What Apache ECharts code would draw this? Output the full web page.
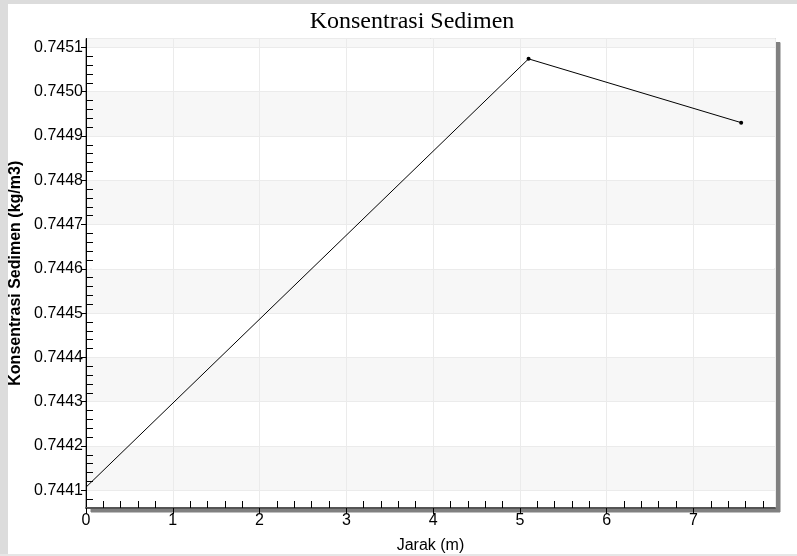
<!DOCTYPE html>
<html>
<head>
<meta charset="utf-8">
<script src="https://cdn.jsdelivr.net/npm/echarts@6/dist/echarts.min.js"></script>
<style>
html,body{margin:0;padding:0;background:#fff;}
#chart{width:797px;height:556px;}
</style>
</head>
<body>
<div id="chart"></div>
<script>
const titleText = "Konsentrasi Sedimen";
const xName = "Jarak (m)";
const yName = "Konsentrasi Sedimen (kg/m3)";
const jarak = [0, 5.1, 7.55];
const konsentrasi = [0.744107, 0.745074, 0.744930];
const xMin = 0, xMax = 7.94;
const yMin = 0.74406, yMax = 0.74512;

const seriesData = jarak.map((x, i) => i === 0 ? {value: [x, konsentrasi[i]], symbol: 'none'} : [x, konsentrasi[i]]);

const chart = echarts.init(document.getElementById('chart'), null, {renderer: 'canvas'});
const FONT = '"Liberation Sans", Arial, sans-serif';
const gridDef = {left: 86, right: 22, top: 38.5, bottom: 48};

chart.setOption({
  animation: false,
  backgroundColor: '#ffffff',
  graphic: [
    {type: 'rect', shape: {x: 0, y: 0, width: 797, height: 4}, style: {fill: '#dcdcdc'}, z: -10},
    {type: 'rect', shape: {x: 0, y: 0, width: 8, height: 556}, style: {fill: '#dcdcdc'}, z: -10},
    {type: 'rect', shape: {x: 0, y: 554, width: 797, height: 2}, style: {fill: '#e6e6e6'}, z: -10}
  ],
  title: {
    text: titleText,
    left: 407, top: 5, textAlign: 'center',
    textStyle: {fontFamily: '"Liberation Serif", "Times New Roman", serif', fontSize: 24, fontWeight: 'normal', color: '#000'}
  },
  grid: Object.assign({
    show: true, backgroundColor: '#ffffff', borderColor: '#555555', borderWidth: 1,
    shadowColor: '#808080', shadowOffsetX: 5, shadowOffsetY: 4, shadowBlur: 0,
    containLabel: false, outerBoundsMode: 'none'
  }, gridDef),
  xAxis: [
    {
      type: 'value', min: xMin, max: xMax, splitNumber: 8,
      name: xName, nameLocation: 'middle', nameGap: 30,
      nameTextStyle: {fontFamily: FONT, fontSize: 16, color: '#000'},
      axisLine: {show: true, onZero: false, lineStyle: {color: '#555555', width: 2}},
      axisTick: {show: true, inside: false, length: 6, lineStyle: {color: '#000', width: 1}},
      axisLabel: {fontFamily: FONT, fontSize: 16, color: '#000', margin: 5, showMaxLabel: false},
      splitLine: {show: true, lineStyle: {color: '#ebebeb', width: 1}},
      splitArea: {show: false}
    },
    {
      type: 'value', min: xMin, max: xMax, splitNumber: 8, position: 'bottom',
      axisLine: {show: false},
      axisTick: {show: false, inside: true},
      minorTick: {show: true, splitNumber: 5, length: 7, lineStyle: {color: '#000', width: 1}},
      axisLabel: {show: false},
      splitLine: {show: false}
    }
  ],
  yAxis: [
    {
      type: 'value', min: yMin, max: yMax, splitNumber: 10,
      name: yName, nameLocation: 'middle', nameGap: 60, nameRotate: 90,
      nameTextStyle: {fontFamily: FONT, fontSize: 16, fontWeight: 'bold', color: '#000'},
      axisLine: {show: true, onZero: false, lineStyle: {color: '#000', width: 1}},
      axisTick: {show: true, inside: false, length: 5, lineStyle: {color: '#000', width: 1}},
      axisLabel: {fontFamily: FONT, fontSize: 16, color: '#000', margin: 3, showMinLabel: false, showMaxLabel: false,
        formatter: v => v.toFixed(4)},
      splitLine: {show: true, lineStyle: {color: '#ebebeb', width: 1}},
      splitArea: {show: true, areaStyle: {color: ['#ffffff', '#f7f7f7']}}
    },
    {
      type: 'value', min: yMin, max: yMax, splitNumber: 10, position: 'left',
      axisLine: {show: false},
      axisTick: {show: false, inside: true},
      minorTick: {show: true, splitNumber: 5, length: 7, lineStyle: {color: '#000', width: 1}},
      axisLabel: {show: false},
      splitLine: {show: false}
    }
  ],
  series: [{
    type: 'line', xAxisIndex: 0, yAxisIndex: 0,
    data: seriesData,
    symbol: 'circle', symbolSize: 4,
    itemStyle: {color: '#000'},
    lineStyle: {color: '#000', width: 1},
    z: 5
  }]
});
</script>
</body>
</html>
